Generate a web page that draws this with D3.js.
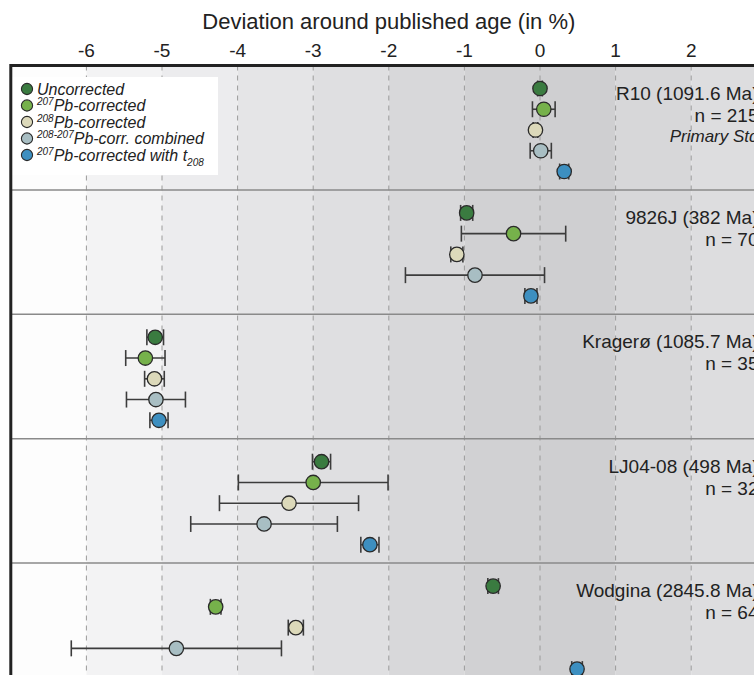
<!DOCTYPE html>
<html>
<head>
<meta charset="utf-8">
<script src="https://cdn.jsdelivr.net/npm/d3@7"></script>
<style>
  html, body { margin: 0; padding: 0; background: #fff; }
  svg { display: block; font-family: "Liberation Sans", Arial, Helvetica, sans-serif; }
</style>
</head>
<body>
<script>
// samples (rows) and their annotations
const samples = ["R10 (1091.6 Ma)", "9826J (382 Ma)", "Kragerø (1085.7 Ma)", "LJ04-08 (498 Ma)", "Wodgina (2845.8 Ma)"];
const counts = [215, 70, 35, 32, 64];
const notes = ["Primary Std", "", "", "", ""];

// correction methods (one point per sample)
const methods = ["uncorr", "pb207", "pb208", "comb", "t208"];
const methodColors = ["#3a7b40", "#76b14b", "#dcd9ba", "#a8bec3", "#3d8fc0"];

// deviation from published age (%) and half-width of error bars
const devUncorr = [0.00, -0.97, -5.09, -2.89, -0.62];
const errUncorr = [0.03, 0.08, 0.11, 0.12, 0.07];
const devPb207 = [0.05, -0.35, -5.22, -3.00, -4.29];
const errPb207 = [0.15, 0.69, 0.26, 0.99, 0.07];
const devPb208 = [-0.06, -1.10, -5.10, -3.32, -3.23];
const errPb208 = [0.03, 0.08, 0.13, 0.92, 0.10];
const devComb = [0.01, -0.86, -5.08, -3.65, -4.81];
const errComb = [0.14, 0.92, 0.39, 0.97, 1.39];
const devT208 = [0.32, -0.12, -5.04, -2.25, 0.49];
const errT208 = [0.06, 0.08, 0.12, 0.12, 0.07];

const xTicks = [-6, -5, -4, -3, -2, -1, 0, 1, 2];
const gridLines = [-6, -5, -4, -3, -2, -1, 0, 1, 2, 3];
// shading bands, one per unit interval from -7 to 3
const bandStarts = [-7, -6, -5, -4, -3, -2, -1, 0, 1, 2];
const bandColors = ["#fdfdfd", "#f3f3f4", "#ececee", "#e5e5e7", "#dfdfe1", "#d8d8da", "#d1d1d3", "#cfcfd1", "#d7d7d9", "#dddddf"];

const width = 754, height = 675;
const plotTop = 65.5, panelH = 124.4;

const series = [
  [devUncorr, errUncorr], [devPb207, errPb207], [devPb208, errPb208], [devComb, errComb], [devT208, errT208]
];
const points = [];
samples.forEach((s, i) => {
  methods.forEach((m, j) => {
    points.push({ sample: s, method: m, color: methodColors[j], v: series[j][0][i], e: series[j][1][i] });
  });
});

const x = d3.scaleLinear().domain([-7, 3]).range([10.8, 766.8]);
const yPanel = d3.scaleBand().domain(samples).range([plotTop, plotTop + panelH * samples.length]);
const yIn = d3.scalePoint().domain(methods).range([23, 106]);
const yPt = d => yPanel(d.sample) + yIn(d.method);

const svg = d3.select("body").append("svg")
  .attr("width", width)
  .attr("height", height);

// background bands
svg.append("g").selectAll("rect")
  .data(bandStarts)
  .join("rect")
  .attr("x", d => x(d))
  .attr("width", d => x(d + 1) - x(d))
  .attr("y", plotTop)
  .attr("height", panelH * samples.length)
  .attr("fill", (d, i) => bandColors[i]);

// dashed grid
svg.append("g").selectAll("line")
  .data(gridLines)
  .join("line")
  .attr("x1", d => x(d)).attr("x2", d => x(d))
  .attr("y1", plotTop).attr("y2", height)
  .attr("stroke", "#9a9a9a")
  .attr("stroke-width", 1)
  .attr("stroke-dasharray", "5,5");

// legend box (drawn over the grid)
const legend = svg.append("g");
legend.append("rect")
  .attr("x", 12).attr("y", 77)
  .attr("width", 206).attr("height", 98)
  .attr("fill", "#fff");

// panel separators
svg.append("g").selectAll("line")
  .data(samples.slice(1))
  .join("line")
  .attr("x1", x(-7)).attr("x2", width)
  .attr("y1", d => yPanel(d)).attr("y2", d => yPanel(d))
  .attr("stroke", "#8a8a8a")
  .attr("stroke-width", 1.5);

// frame (left + top)
svg.append("line")
  .attr("x1", x(-7)).attr("x2", width)
  .attr("y1", plotTop).attr("y2", plotTop)
  .attr("stroke", "#222").attr("stroke-width", 3);
svg.append("line")
  .attr("x1", x(-7)).attr("x2", x(-7))
  .attr("y1", plotTop - 1.5).attr("y2", height)
  .attr("stroke", "#222").attr("stroke-width", 3);

// top axis labels + title
svg.append("g").selectAll("text")
  .data(xTicks)
  .join("text")
  .attr("x", d => x(d))
  .attr("y", 57)
  .attr("text-anchor", "middle")
  .style("font-size", "19px")
  .attr("fill", "#222")
  .text(d => d);

svg.append("text")
  .attr("x", (x(-7) + x(3)) / 2)
  .attr("y", 29)
  .attr("text-anchor", "middle")
  .style("font-size", "22px")
  .attr("fill", "#222")
  .text("Deviation around published age (in %)");

// sample labels
const labelX = 758.5;
const labels = svg.append("g");
samples.forEach((s, i) => {
  const py = yPanel(s);
  labels.append("text")
    .attr("x", labelX).attr("y", py + 34)
    .attr("text-anchor", "end")
    .style("font-size", "19px").attr("fill", "#222")
    .text(s);
  labels.append("text")
    .attr("x", labelX).attr("y", py + 56)
    .attr("text-anchor", "end")
    .style("font-size", "19px").attr("fill", "#222")
    .text("n = " + counts[i]);
  if (notes[i]) {
    labels.append("text")
      .attr("x", labelX).attr("y", py + 76)
      .attr("text-anchor", "end")
      .style("font-size", "17px").style("font-style", "italic").attr("fill", "#222")
      .text(notes[i]);
  }
});

// error bars
const capH = 8;
const eb = svg.append("g")
  .attr("stroke", "#3c3c3c")
  .attr("stroke-width", 1.6);
eb.selectAll("line.bar")
  .data(points)
  .join("line")
  .attr("class", "bar")
  .attr("x1", d => x(d.v - d.e)).attr("x2", d => x(d.v + d.e))
  .attr("y1", yPt).attr("y2", yPt);
eb.selectAll("line.capL")
  .data(points)
  .join("line")
  .attr("class", "capL")
  .attr("x1", d => x(d.v - d.e)).attr("x2", d => x(d.v - d.e))
  .attr("y1", d => yPt(d) - capH).attr("y2", d => yPt(d) + capH);
eb.selectAll("line.capR")
  .data(points)
  .join("line")
  .attr("class", "capR")
  .attr("x1", d => x(d.v + d.e)).attr("x2", d => x(d.v + d.e))
  .attr("y1", d => yPt(d) - capH).attr("y2", d => yPt(d) + capH);

// points
svg.append("g").selectAll("circle")
  .data(points)
  .join("circle")
  .attr("cx", d => x(d.v))
  .attr("cy", yPt)
  .attr("r", 7.2)
  .attr("fill", d => d.color)
  .attr("stroke", "#2a2a2a")
  .attr("stroke-width", 1.3);

// legend entries
const legendItems = [
  [["", "Uncorrected"]],
  [["sup", "207"], ["", "Pb-corrected"]],
  [["sup", "208"], ["", "Pb-corrected"]],
  [["sup", "208-207"], ["", "Pb-corr. combined"]],
  [["sup", "207"], ["", "Pb-corrected with t"], ["sub", "208"]]
];
const ly = d3.scalePoint().domain(d3.range(legendItems.length)).range([89, 155]);
legendItems.forEach((parts, i) => {
  legend.append("circle")
    .attr("cx", 27).attr("cy", ly(i)).attr("r", 5.6)
    .attr("fill", methodColors[i])
    .attr("stroke", "#2a2a2a").attr("stroke-width", 1.1);
  const t = legend.append("text")
    .attr("x", 37).attr("y", ly(i) + 5.5)
    .style("font-size", "16px").style("font-style", "italic").attr("fill", "#222");
  let shift = 0;
  parts.forEach(([kind, str]) => {
    const sp = t.append("tspan").text(str);
    if (kind === "sup") {
      sp.style("font-size", "10px").attr("dy", -6 - shift); shift = -6;
    } else if (kind === "sub") {
      sp.style("font-size", "10px").attr("dy", 5 - shift); shift = 5;
    } else {
      sp.attr("dy", -shift); shift = 0;
    }
  });
});
</script>
</body>
</html>
